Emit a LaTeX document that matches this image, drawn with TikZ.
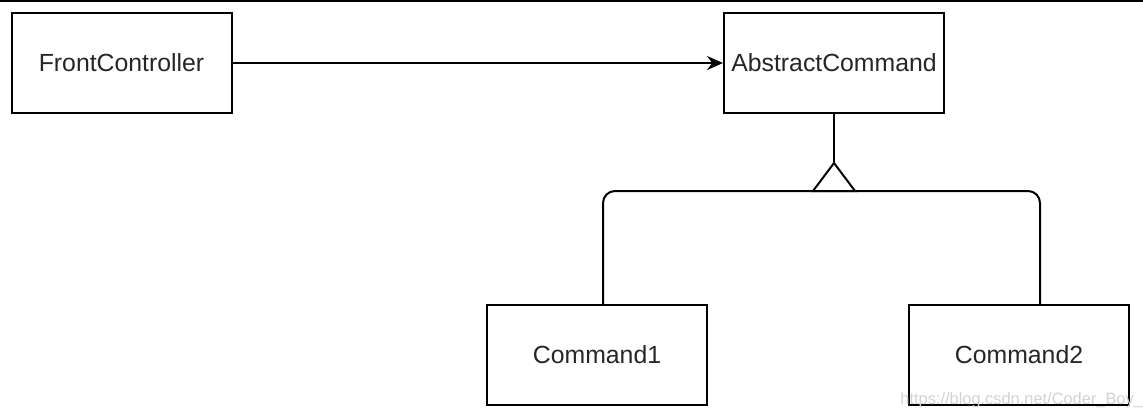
\documentclass[tikz,border=0pt]{standalone}
\usepackage{fontspec}
\setmainfont{Liberation Sans}
\usetikzlibrary{arrows.meta}

\tikzset{
    umlbox/.style={draw, line width=1pt, minimum width=110pt, minimum height=50pt,
        inner sep=0pt, text=black!85, font=\fontsize{12.4}{15}\selectfont},
    link/.style={line width=1pt}
}

\begin{document}
\begin{tikzpicture}[x=0.5pt, y=-0.5pt]
    \useasboundingbox (0,0) rectangle (1143,419);

    % frame edge at the top
    \draw[line width=1.2pt] (0,1) -- (1143,1);

    % classes
    \node[umlbox] (front) at (121.5, 63) {FrontController\hspace{6pt}};
    \node[umlbox] (abstract) at (834, 63) {AbstractCommand};
    \node[umlbox] (cmdA) at (597, 355) {Command1};
    \node[umlbox] (cmdB) at (1019, 355) {Command2};

    % association
    \draw[link, -{Stealth[length=8pt, width=7pt]}] (front) -- (abstract);

    % generalisation
    \coordinate (tip) at (834, 163);
    \coordinate (base) at (834, 191);
    \draw[link] (abstract) -- (tip);
    \draw[link, rounded corners=6pt] ([xshift=3pt]cmdA.north) |- (base) -| ([xshift=10.5pt]cmdB.north);
    \draw[link, fill=white] (tip) -- ++(21,28) -- ++(-42,0) -- cycle;

    % watermark
    \node[text=gray!35, font=\fontsize{8.2}{10}\selectfont, anchor=base west, inner sep=0pt] (mark)
        at (900, 404) {https://blog.csdn.net/Coder\_Boy\_};
\end{tikzpicture}
\end{document}
